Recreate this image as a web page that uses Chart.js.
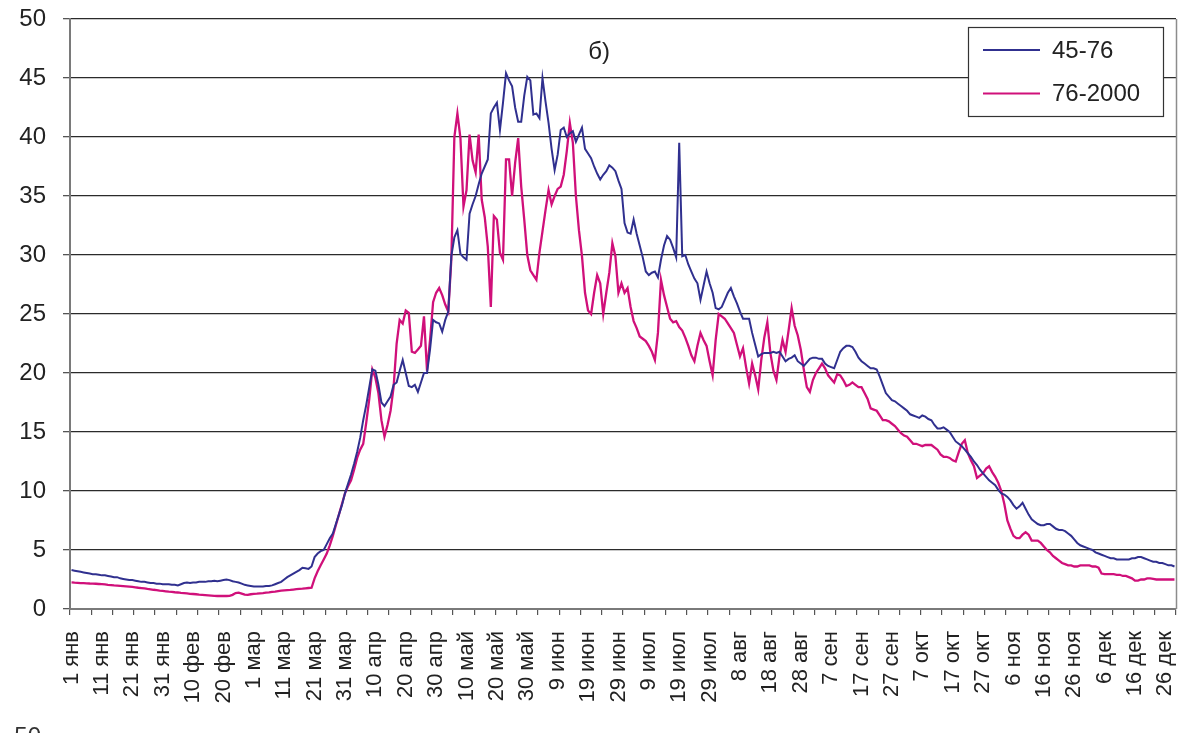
<!DOCTYPE html>
<html>
<head>
<meta charset="utf-8">
<script src="https://cdn.jsdelivr.net/npm/chart.js@4.4.1/dist/chart.umd.min.js"></script>
<style>
  html, body { margin: 0; padding: 0; background: #fff; overflow: hidden; }
  #wrap { position: relative; width: 1187px; height: 733px; }
</style>
</head>
<body>
<div id="wrap"><canvas id="chart" width="1187" height="733"></canvas></div>
<script>
// Panel caption
const panelTitle = 'б)';

// Axis labels, one every 10 days (leap year calendar)
const tickLabels = ['1 янв','11 янв','21 янв','31 янв','10 фев','20 фев','1 мар','11 мар','21 мар',
  '31 мар','10 апр','20 апр','30 апр','10 май','20 май','30 май','9 июн','19 июн','29 июн',
  '9 июл','19 июл','29 июл','8 авг','18 авг','28 авг','7 сен','17 сен','27 сен','7 окт',
  '17 окт','27 окт','6 ноя','16 ноя','26 ноя','6 дек','16 дек','26 дек'];

const seriesNames = ['45-76', '76-2000'];

// Daily values, period 1945-1976 (rows of ten days)
const values4576 = [
  3.3, 3.25, 3.2, 3.15, 3.1, 3.05, 3.0, 2.95, 2.95, 2.9,
  2.85, 2.85, 2.8, 2.75, 2.7, 2.7, 2.6, 2.55, 2.5, 2.45,
  2.45, 2.4, 2.35, 2.3, 2.3, 2.25, 2.2, 2.2, 2.15, 2.15,
  2.1, 2.1, 2.1, 2.05, 2.05, 2.0, 2.1, 2.2, 2.25, 2.2,
  2.25, 2.25, 2.3, 2.3, 2.3, 2.35, 2.35, 2.4, 2.35, 2.4,
  2.45, 2.5, 2.45, 2.35, 2.3, 2.25, 2.15, 2.05, 2.0, 1.95,
  1.9, 1.9, 1.9, 1.9, 1.95, 1.95, 2.0, 2.1, 2.2, 2.3,
  2.5, 2.7, 2.85, 3.0, 3.15, 3.3, 3.5, 3.45, 3.4, 3.6,
  4.4, 4.7, 4.9, 5.0, 5.5, 6.0, 6.4, 7.2, 8.0, 8.8,
  9.8, 10.6, 11.4, 12.3, 13.3, 14.5, 16.0, 17.3, 18.8, 20.3,
  20.2, 19.0, 17.5, 17.2, 17.6, 18.0, 19.0, 19.2, 20.2, 21.1,
  20.0, 18.9, 18.8, 19.0, 18.4, 19.2, 20.0, 20.0, 22.0, 24.5,
  24.3, 24.2, 23.5, 24.5, 25.2, 29.9, 31.5, 32.1, 30.1, 29.8,
  29.6, 33.5, 34.3, 35.0, 36.0, 36.9, 37.5, 38.1, 42.0, 42.5,
  42.9, 40.6, 42.9, 45.4, 44.8, 44.3, 42.5, 41.3, 41.3, 43.5,
  45.1, 44.8, 41.9, 42.0, 41.6, 45.0, 43.0, 41.2, 39.0, 37.2,
  38.5, 40.6, 40.8, 40.0, 40.3, 40.5, 39.6, 40.2, 40.8, 39.0,
  38.6, 38.2, 37.5, 36.9, 36.4, 36.8, 37.1, 37.6, 37.4, 37.1,
  36.3, 35.6, 32.7, 31.9, 31.8, 33.0, 31.8, 30.8, 29.8, 28.6,
  28.3, 28.5, 28.6, 28.1, 29.6, 30.8, 31.6, 31.3, 30.6, 29.8,
  39.5, 29.9, 30.0, 29.2, 28.6, 28.0, 27.6, 26.2, 27.4, 28.6,
  27.6, 26.8, 25.5, 25.4, 25.6, 26.2, 26.8, 27.2, 26.5, 25.9,
  25.2, 24.6, 24.6, 24.6, 23.4, 22.4, 21.4, 21.6, 21.7, 21.7,
  21.7, 21.8, 21.7, 21.8, 21.4, 21.0, 21.2, 21.3, 21.5, 21.0,
  20.8, 20.6, 20.9, 21.2, 21.3, 21.3, 21.2, 21.2, 20.8, 20.6,
  20.5, 20.4, 21.1, 21.8, 22.1, 22.3, 22.3, 22.2, 21.8, 21.3,
  21.0, 20.8, 20.6, 20.4, 20.4, 20.3, 19.7, 19.0, 18.3, 18.0,
  17.7, 17.6, 17.4, 17.2, 17.0, 16.8, 16.5, 16.4, 16.3, 16.2,
  16.4, 16.3, 16.1, 16.0, 15.6, 15.3, 15.3, 15.4, 15.2, 15.0,
  14.6, 14.2, 14.0, 13.8, 13.5, 13.2, 12.9, 12.5, 12.2, 11.8,
  11.5, 11.2, 10.9, 10.7, 10.5, 10.1, 9.8, 9.7, 9.5, 9.2,
  8.8, 8.5, 8.7, 9.0, 8.5, 8.0, 7.6, 7.4, 7.2, 7.1,
  7.1, 7.2, 7.2, 7.0, 6.8, 6.7, 6.7, 6.6, 6.4, 6.2,
  5.9, 5.6, 5.4, 5.3, 5.2, 5.1, 5.0, 4.8, 4.7, 4.6,
  4.5, 4.4, 4.3, 4.3, 4.2, 4.2, 4.2, 4.2, 4.2, 4.3,
  4.3, 4.4, 4.4, 4.3, 4.2, 4.1, 4.0, 4.0, 3.9, 3.9,
  3.8, 3.7, 3.7, 3.6
];

// Daily values, period 1976-2000 (rows of ten days)
const values762000 = [
  2.25, 2.23, 2.22, 2.2, 2.2, 2.18, 2.16, 2.15, 2.14, 2.12,
  2.1, 2.08, 2.05, 2.03, 2.0, 1.98, 1.96, 1.94, 1.92, 1.9,
  1.87, 1.84, 1.8, 1.77, 1.74, 1.7, 1.67, 1.63, 1.6, 1.56,
  1.53, 1.5, 1.47, 1.45, 1.42, 1.4, 1.37, 1.35, 1.32, 1.29,
  1.27, 1.25, 1.22, 1.2, 1.18, 1.16, 1.14, 1.12, 1.1, 1.1,
  1.1, 1.1, 1.12, 1.2, 1.35, 1.38, 1.3, 1.22, 1.2, 1.25,
  1.28, 1.3, 1.33, 1.35, 1.38, 1.4, 1.45, 1.48, 1.52, 1.55,
  1.58, 1.6, 1.62, 1.65, 1.68, 1.7, 1.72, 1.75, 1.78, 1.8,
  2.6, 3.2, 3.7, 4.2, 4.7, 5.4, 6.2, 7.1, 8.0, 8.9,
  9.8, 10.4, 10.9, 11.8, 12.8, 13.5, 14.0, 15.8, 17.8, 20.3,
  19.6, 18.3, 16.0, 14.6, 15.6, 16.8, 18.8, 22.5, 24.5, 24.2,
  25.3, 25.1, 21.8, 21.7, 22.0, 22.3, 24.8, 20.2, 22.8, 26.0,
  26.8, 27.2, 26.6, 25.8, 25.2, 29.6, 40.0, 42.0, 39.9, 34.1,
  35.5, 40.2, 38.0, 37.0, 40.2, 34.7, 33.2, 30.7, 25.6, 33.3,
  33.0, 30.2, 29.6, 38.1, 38.1, 35.0, 37.8, 39.9, 35.8, 33.0,
  30.0, 28.7, 28.3, 27.9, 30.2, 32.0, 33.8, 35.5, 34.3, 35.0,
  35.6, 35.8, 36.8, 38.8, 41.2, 39.5, 35.0, 32.1, 29.9, 26.8,
  25.3, 25.0, 26.8, 28.3, 27.6, 25.0, 26.8, 28.5, 31.0, 29.9,
  26.8, 27.6, 26.8, 27.2, 25.6, 24.4, 23.8, 23.1, 22.9, 22.7,
  22.3, 21.8, 21.1, 23.4, 27.9, 26.6, 25.6, 24.6, 24.3, 24.4,
  23.9, 23.6, 23.0, 22.3, 21.5, 21.0, 22.3, 23.4, 22.8, 22.3,
  21.0, 19.8, 22.8, 25.0, 24.8, 24.6, 24.2, 23.8, 23.4, 22.4,
  21.4, 22.1, 20.5, 19.1, 20.8, 19.8, 18.6, 21.1, 23.0, 24.3,
  21.7, 20.2, 19.4, 21.4, 22.8, 21.8, 23.6, 25.5, 24.0, 23.2,
  22.0, 20.3, 18.8, 18.4, 19.4, 20.0, 20.4, 20.8, 20.4, 19.8,
  19.5, 19.2, 19.9, 19.8, 19.4, 18.9, 19.0, 19.2, 19.0, 18.8,
  18.8, 18.3, 17.8, 17.0, 16.9, 16.8, 16.4, 16.0, 16.0, 15.9,
  15.7, 15.5, 15.2, 14.9, 14.7, 14.6, 14.3, 14.0, 14.0, 13.9,
  13.8, 13.9, 13.9, 13.9, 13.7, 13.5, 13.1, 12.9, 12.9, 12.8,
  12.6, 12.5, 13.3, 14.0, 14.3, 13.2, 12.6, 12.1, 11.1, 11.3,
  11.5, 11.9, 12.1, 11.6, 11.2, 10.7, 10.0, 8.9, 7.5, 6.8,
  6.2, 6.0, 6.0, 6.3, 6.5, 6.3, 5.8, 5.8, 5.8, 5.6,
  5.3, 5.0, 4.8, 4.5, 4.3, 4.1, 3.9, 3.8, 3.7, 3.7,
  3.6, 3.6, 3.7, 3.7, 3.7, 3.7, 3.6, 3.6, 3.5, 3.0,
  2.95, 2.95, 2.95, 2.95, 2.9, 2.9, 2.8, 2.8, 2.7, 2.6,
  2.4, 2.4, 2.5, 2.5, 2.6, 2.6, 2.55, 2.5, 2.5, 2.5,
  2.5, 2.5, 2.5, 2.5
];

const FONT = "'Liberation Sans', Arial, sans-serif";
const colorA = '#30308f';
const colorB = '#d0107a';

// One category per day of the series
const dayIndex = values4576.map((_, i) => i);

Chart.defaults.font.family = FONT;
Chart.defaults.color = '#222';

// Frame, caption and in-plot legend
const decorations = {
  id: 'decorations',
  afterDraw(chart) {
    const { ctx, chartArea: a } = chart;
    ctx.save();

    // right edge of the plot frame
    ctx.strokeStyle = '#8c8c8c';
    ctx.lineWidth = 1.5;
    ctx.beginPath();
    ctx.moveTo(a.right + 0.5, a.top);
    ctx.lineTo(a.right + 0.5, a.bottom);
    ctx.stroke();

    // panel caption
    ctx.fillStyle = '#222';
    ctx.font = '24px ' + FONT;
    ctx.textAlign = 'center';
    ctx.textBaseline = 'middle';
    ctx.fillText(panelTitle, 599, 52);

    // legend box
    const bx = 968.5, by = 27.5, bw = 195, bh = 89;
    ctx.fillStyle = '#fff';
    ctx.fillRect(bx, by, bw, bh);
    ctx.strokeStyle = '#333';
    ctx.lineWidth = 1.2;
    ctx.strokeRect(bx, by, bw, bh);
    const rows = [50, 93.5];
    chart.data.datasets.forEach((ds, i) => {
      ctx.strokeStyle = ds.borderColor;
      ctx.lineWidth = 2.2;
      ctx.beginPath();
      ctx.moveTo(983, rows[i]);
      ctx.lineTo(1040, rows[i]);
      ctx.stroke();
      ctx.fillStyle = '#222';
      ctx.font = '24px ' + FONT;
      ctx.textAlign = 'left';
      ctx.textBaseline = 'middle';
      ctx.fillText(ds.label, 1052, rows[i] + 1);
    });

    // top of the next panel's axis label, cut by the page edge
    ctx.fillStyle = '#333';
    ctx.font = '24px ' + FONT;
    ctx.textAlign = 'right';
    ctx.textBaseline = 'alphabetic';
    ctx.fillText('50', 41, 744);

    ctx.restore();
  }
};

new Chart(document.getElementById('chart'), {
  type: 'line',
  data: {
    labels: dayIndex,
    datasets: [
      { label: seriesNames[0], data: values4576, borderColor: colorA, backgroundColor: colorA,
        borderWidth: 2, pointRadius: 0, tension: 0, fill: false },
      { label: seriesNames[1], data: values762000, borderColor: colorB, backgroundColor: colorB,
        borderWidth: 2.3, pointRadius: 0, tension: 0, fill: false }
    ]
  },
  options: {
    responsive: false,
    animation: false,
    devicePixelRatio: 1,
    layout: { padding: { left: 0, right: 11, top: 19, bottom: 0 } },
    plugins: { legend: { display: false }, tooltip: { enabled: false }, title: { display: false } },
    scales: {
      x: {
        type: 'category',
        offset: true,
        ticks: {
          autoSkip: false,
          minRotation: 90,
          maxRotation: 90,
          padding: 16,
          color: '#222',
          font: { size: 22 },
          callback: (v, i) => (i % 10 === 0 ? tickLabels[i / 10] : '')
        },
        grid: {
          drawOnChartArea: false,
          offset: true,
          tickLength: 6,
          lineWidth: 1.2,
          color: ctx => (ctx.index === undefined || ctx.index % 7 === 0 ? '#555' : 'rgba(0,0,0,0)'),
          tickColor: ctx => (ctx.index === undefined || ctx.index % 7 === 0 ? '#555' : 'rgba(0,0,0,0)')
        },
        border: { display: true, color: '#7a7a7a', width: 2 },
        afterFit(scale) {
          scale.height = 124;
          scale.paddingLeft = 0;
          scale.paddingRight = 0;
        }
      },
      y: {
        min: 0,
        max: 50,
        ticks: { stepSize: 5, padding: 17, color: '#222', font: { size: 24 } },
        grid: { color: '#2b2b2b', lineWidth: 1.3, tickLength: 7, tickColor: '#555' },
        border: { display: true, color: '#7a7a7a', width: 2 },
        afterFit(scale) {
          scale.width = 70;
          scale.paddingTop = 0;
          scale.paddingBottom = 0;
        }
      }
    }
  },
  plugins: [decorations]
});
</script>
</body>
</html>
